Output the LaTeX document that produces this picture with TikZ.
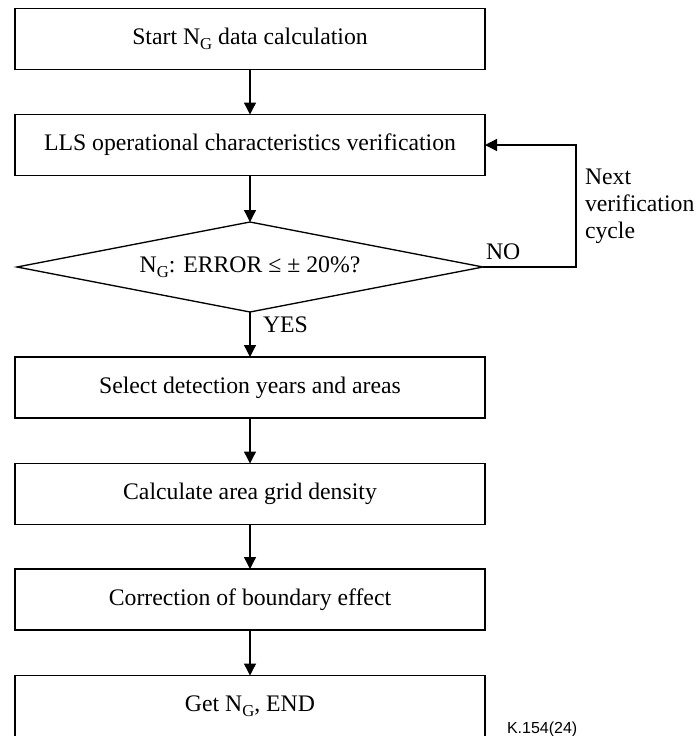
\documentclass[tikz,border=0pt]{standalone}
\usepackage{fontspec}
\setmainfont{Liberation Serif}
\newfontfamily\labelfont{Liberation Sans}
\usetikzlibrary{shapes.geometric,arrows.meta}
% N with a lowered subscript G
\newcommand{\densNg}{N\raisebox{-0.45ex}{\fontsize{12.5pt}{12.5pt}\selectfont G}}
\tikzset{
  stepbox/.style={draw, line width=1pt, rectangle, minimum width=352.5pt,
    minimum height=45.75pt, inner sep=0pt, outer sep=0pt},
  decision/.style={draw, line width=1pt, diamond, aspect=5.2,
    minimum width=349.5pt, minimum height=67.5pt, inner sep=0pt, outer sep=0pt},
  flow/.style={line width=1pt, -{Triangle[length=9pt,width=9pt]}},
  lbl/.style={inner sep=0pt, outer sep=0pt},
}
\begin{document}
\begin{tikzpicture}[x=0.75pt, y=-0.75pt, font=\fontsize{17.8pt}{20.3pt}\selectfont]
  \useasboundingbox (0,0) rectangle (697,736);

  % process steps
  \node[stepbox] (b1) at (250,39)    {Start \densNg{} data calculation};
  \node[stepbox] (b2) at (250,145)   {LLS operational characteristics verification};
  \node[decision] (d) at (250,267)   {\densNg: ERROR ≤ ± 20\%?};
  \node[stepbox] (b3) at (250,387.5) {Select detection years and areas};
  \node[stepbox] (b4) at (250,494)   {Calculate area grid density};
  \node[stepbox] (b5) at (250,599.5) {Correction of boundary effect};
  \node[stepbox] (b6) at (250,706)   {Get \densNg, END};

  % main flow
  \draw[flow] (b1.south) -- (b2.north);
  \draw[flow] (b2.south) -- (d.north);
  \draw[flow] (d.south) -- (b3.north);
  \draw[flow] (b3.south) -- (b4.north);
  \draw[flow] (b4.south) -- (b5.north);
  \draw[flow] (b5.south) -- (b6.north);

  % feedback loop
  \coordinate (loop) at (576,267);
  \draw[flow] (d.east) -- (loop) |- (b2.east);

  % labels
  \node[lbl, anchor=base west] (yes) at (263,332) {YES};
  \node[lbl, anchor=base west] (no) at (486,259) {NO};
  \node[lbl, anchor=west, align=left] (cyc) at (585,206) {Next\\verification\\cycle};
  \node[lbl, anchor=base west, font=\labelfont\fontsize{12pt}{14pt}\selectfont] (fig) at (507,733) {K.154(24)};
\end{tikzpicture}
\end{document}
